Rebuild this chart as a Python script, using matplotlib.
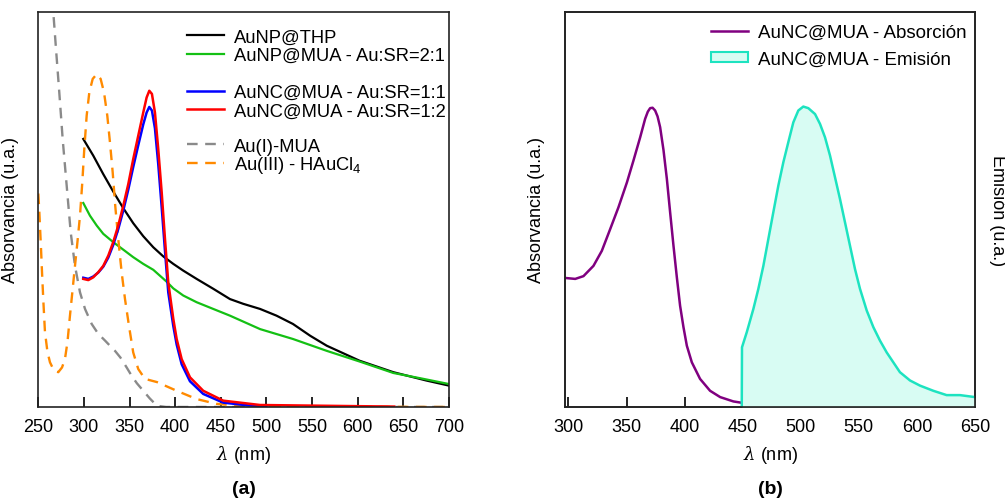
import matplotlib
matplotlib.use("Agg")
import matplotlib.pyplot as plt
from matplotlib.lines import Line2D
from matplotlib.patches import Patch
from matplotlib.legend import Legend

plt.rcParams['font.family'] = ['Liberation Sans', 'DejaVu Sans']
plt.rcParams['font.size'] = 13
plt.rcParams['mathtext.fontset'] = 'custom'
plt.rcParams['mathtext.rm'] = 'Liberation Sans'
plt.rcParams['mathtext.it'] = 'DejaVu Serif:italic'

# ---------------- Panel (a) data ----------------
thp_x = [299.3, 310.2, 321.2, 332.1, 343.1, 354, 365, 376, 386.9, 397.9, 408.8, 423.5, 441.7,
         460, 474.5, 493, 511, 529, 548, 566, 602, 639, 675, 700]
thp_y = [0.678, 0.636, 0.589, 0.545, 0.503, 0.465, 0.432, 0.404, 0.381, 0.362, 0.345, 0.324,
         0.299, 0.273, 0.261, 0.248, 0.231, 0.210, 0.180, 0.155, 0.117, 0.088, 0.067, 0.054]

mua21_x = [299.3, 306.6, 314, 321.2, 332.1, 343.1, 354, 365, 376, 383.3, 390.6, 397.9, 408.8,
           423.5, 441.7, 460, 493, 529, 566, 602, 639, 670, 700]
mua21_y = [0.516, 0.484, 0.459, 0.438, 0.417, 0.398, 0.379, 0.362, 0.347, 0.332, 0.317, 0.300,
           0.282, 0.265, 0.248, 0.231, 0.197, 0.172, 0.142, 0.115, 0.086, 0.072, 0.058]

nc11_x = [299.3, 304.8, 310.2, 315.7, 321.2, 326.7, 332.1, 337.6, 343.1, 348.6, 354, 359.5,
          365, 368.7, 371.6, 374.5, 377.8, 381.4, 385.2, 388.8, 392.4, 397.9, 401.6, 407.1,
          416.2, 430.7, 452.6, 480, 500]
nc11_y = [0.327, 0.324, 0.330, 0.340, 0.355, 0.378, 0.410, 0.450, 0.497, 0.550, 0.607, 0.662,
          0.715, 0.745, 0.759, 0.750, 0.705, 0.615, 0.505, 0.395, 0.290, 0.205, 0.158, 0.108,
          0.065, 0.033, 0.011, 0.004, 0.002]

nc12_x = [299.3, 304.8, 310.2, 315.7, 321.2, 326.7, 332.1, 337.6, 343.1, 348.6, 354, 359.5,
          365, 368.7, 371.6, 374.5, 377.8, 381.4, 385.2, 388.8, 392.4, 397.9, 401.6, 407.1,
          416.2, 430.7, 452.6, 493, 602, 640]
nc12_y = [0.324, 0.321, 0.328, 0.341, 0.357, 0.383, 0.417, 0.459, 0.509, 0.564, 0.627, 0.686,
          0.745, 0.783, 0.800, 0.792, 0.745, 0.653, 0.543, 0.425, 0.315, 0.223, 0.172, 0.121,
          0.075, 0.041, 0.016, 0.005, 0.002, 0.001]

aui_x = [263, 266.4, 269.4, 273, 276.7, 281.1, 285.5, 290.2, 295.7, 301.2, 308.5, 315.7, 323.1,
         328.5, 334, 340, 346.8, 352, 358, 365, 372, 380, 390, 700]
aui_y = [1.08, 1.000, 0.906, 0.796, 0.678, 0.560, 0.442, 0.357, 0.290, 0.248, 0.210, 0.185,
         0.168, 0.155, 0.142, 0.125, 0.100, 0.080, 0.060, 0.041, 0.022, 0.003, 0.0, 0.0]

auiii_x = [250, 251, 252, 253, 254, 255.5, 257.3, 260, 262.8, 267, 271.9, 276, 279.2, 282,
           284.7, 287.5, 290.2, 293, 295.7, 298.2, 300.4, 303, 305.9, 309.6, 314, 318.3, 322,
           325.6, 328.5, 331.5, 334.3, 337.6, 341.3, 345, 349.3, 354, 359.5, 366.9, 380, 401.6,
           423.5, 445, 480, 700]
auiii_y = [0.540, 0.500, 0.450, 0.400, 0.345, 0.270, 0.190, 0.140, 0.113, 0.093, 0.088, 0.100,
           0.121, 0.165, 0.231, 0.295, 0.357, 0.420, 0.484, 0.568, 0.653, 0.737, 0.796, 0.830,
           0.842, 0.830, 0.796, 0.737, 0.670, 0.594, 0.509, 0.425, 0.341, 0.273, 0.206, 0.138,
           0.096, 0.071, 0.063, 0.041, 0.020, 0.008, 0.001, 0.0]

# ---------------- Panel (b) data ----------------
abs_x = [298.6, 305.8, 312.9, 321.5, 328.7, 335.9, 343, 350.3, 355.9, 361.7, 366, 368.3, 370.3,
         372.4, 374.6, 376.7, 378.9, 381.8, 384.7, 387.5, 390.4, 393.3, 396.1, 399, 401.9,
         406.2, 413.3, 421.9, 430.6, 442, 450.6, 480, 510]
abs_y = [0.326, 0.324, 0.331, 0.357, 0.395, 0.450, 0.505, 0.568, 0.623, 0.682, 0.729, 0.747,
         0.756, 0.757, 0.750, 0.735, 0.708, 0.650, 0.577, 0.493, 0.408, 0.328, 0.256, 0.202,
         0.155, 0.113, 0.071, 0.041, 0.025, 0.014, 0.010, 0.004, 0.001]

em_x = [449.2, 449.4, 453.5, 459.2, 463.5, 467.8, 472.1, 476.4, 480.7, 485, 489.3, 493.6, 497.9,
        502.2, 506.5, 512.3, 516.6, 520.9, 525.2, 529.5, 533.8, 538.1, 542.4, 546.7, 551,
        556.8, 562.5, 568.2, 574, 579.7, 585.4, 594.1, 602.7, 614.1, 625.6, 637.1, 650]
em_y = [0.0, 0.151, 0.189, 0.248, 0.299, 0.357, 0.425, 0.493, 0.560, 0.619, 0.670, 0.720, 0.750,
        0.760, 0.756, 0.741, 0.716, 0.682, 0.636, 0.581, 0.526, 0.467, 0.408, 0.349, 0.299,
        0.244, 0.202, 0.168, 0.138, 0.113, 0.088, 0.067, 0.054, 0.041, 0.030, 0.030, 0.025]

xticks_a = [250, 300, 350, 400, 450, 500, 550, 600, 650, 700]
xticks_b = [300, 350, 400, 450, 500, 550, 600, 650]

c_black = '#000000'
c_green = '#14c014'
c_blue = '#0000ff'
c_red = '#ff0000'
c_gray = '#8a8a8a'
c_orange = '#ff8a00'
c_purple = '#800080'
c_teal = '#1de3c0'
c_fill = '#d8fcf3'

fig = plt.figure(figsize=(10.05, 5.02), dpi=100)
ax1 = fig.add_axes([0.0381, 0.1873, 0.4087, 0.7874])
ax2 = fig.add_axes([0.5622, 0.1873, 0.4079, 0.7874])


def style(ax):
    for s in ax.spines.values():
        s.set_linewidth(1.2)
        s.set_color('#222222')
    ax.tick_params(axis='x', direction='in', length=7.5, width=1.2, pad=8, labelsize=13)
    ax.tick_params(axis='y', left=False, labelleft=False, right=False, labelright=False)


# ---- Panel (a) ----
ax1.plot(thp_x, thp_y, color=c_black, lw=1.6, label='AuNP@THP')
ax1.plot(mua21_x, mua21_y, color=c_green, lw=1.6, label='AuNP@MUA - Au:SR=2:1')
ax1.plot(aui_x, aui_y, color=c_gray, lw=1.7, ls=(0, (4.5, 3.2)), label='Au(I)-MUA')
ax1.plot(auiii_x, auiii_y, color=c_orange, lw=1.7, ls=(0, (4.5, 3.2)), label=r'Au(III) - HAuCl$_4$')
ax1.plot(nc11_x, nc11_y, color=c_blue, lw=1.8, label='AuNC@MUA - Au:SR=1:1')
ax1.plot(nc12_x, nc12_y, color=c_red, lw=1.8, label='AuNC@MUA - Au:SR=1:2')
ax1.set_xlim(250, 700)
ax1.set_ylim(0, 1)
ax1.set_xticks(xticks_a)
style(ax1)
ax1.set_xlabel(r'$\lambda$ (nm)', fontsize=13, labelpad=6)
ax1.set_ylabel('Absorvancia (u.a.)', fontsize=13)
ax1.yaxis.set_label_coords(-0.047, 0.5)

h, l = ax1.get_legend_handles_labels()
hd = dict(zip(l, h))
groups = [(['AuNP@THP', 'AuNP@MUA - Au:SR=2:1'], 0.966, 0.08),
          (['AuNC@MUA - Au:SR=1:1', 'AuNC@MUA - Au:SR=1:2'], 0.826, 0.08),
          (['Au(I)-MUA', r'Au(III) - HAuCl$_4$'], 0.690, -0.05)]
for labels, ytop, sp in groups:
    leg = Legend(ax1, [hd[k] for k in labels], labels, loc='upper left',
                 bbox_to_anchor=(0.354, ytop), frameon=False, fontsize=13.2,
                 handlelength=2.0, handletextpad=0.55, labelspacing=sp,
                 borderpad=0.2, borderaxespad=0)
    ax1.add_artist(leg)

# ---- Panel (b) ----
ax2.plot(abs_x, abs_y, color=c_purple, lw=1.8)
ax2.set_xlim(297, 650)
ax2.set_ylim(0, 1)
ax2.set_xticks(xticks_b)
ax2.set_xlabel(r'$\lambda$ (nm)', fontsize=13, labelpad=6)
ax2.set_ylabel('Absorvancia (u.a.)', fontsize=13)

ax3 = ax2.twinx()
ax3.fill_between(em_x, 0, em_y, color=c_fill, lw=0)
ax3.plot(em_x, em_y, color=c_teal, lw=1.8)
ax3.set_ylim(0, 1)
style(ax2)
style(ax3)
ax2.yaxis.set_label_coords(-0.049, 0.5)
ax3.set_ylabel('Emisión (u.a.)', fontsize=13, rotation=270, va='center')
ax3.yaxis.set_label_coords(1.054, 0.5)

leg_h = [Line2D([0], [0], color=c_purple, lw=1.8),
         Patch(facecolor=c_fill, edgecolor=c_teal, lw=1.5)]
ax3.legend(leg_h, ['AuNC@MUA - Absorción', 'AuNC@MUA - Emisión'], loc='upper right',
           bbox_to_anchor=(0.99, 0.978), frameon=False, fontsize=13.5,
           handlelength=2.0, handleheight=0.42, handletextpad=0.55, labelspacing=0.5,
           borderpad=0.2, borderaxespad=0)

fig.text(243.5 / 1005, 1 - 490 / 502, '(a)', fontsize=14, fontweight='bold', ha='center', va='center')
fig.text(770 / 1005, 1 - 490 / 502, '(b)', fontsize=14, fontweight='bold', ha='center', va='center')

fig.savefig('out.png', dpi=100)
